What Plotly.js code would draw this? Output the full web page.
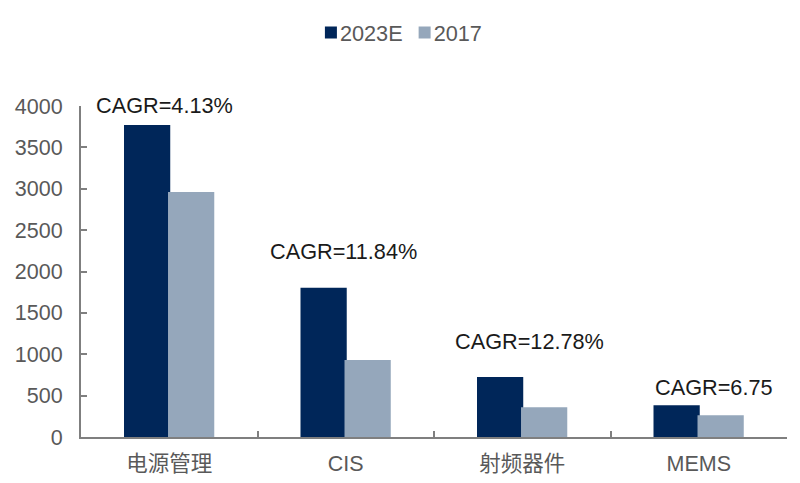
<!DOCTYPE html>
<html><head><meta charset="utf-8">
<script src="https://cdn.plot.ly/plotly-3.0.1.min.js"></script>
<style>html,body{margin:0;padding:0;background:#fff}</style></head>
<body><div id="chart" style="width:800px;height:483px"></div>
<script>
const categories = ['电源管理','CIS','射频器件','MEMS'];
const values2023E = [3770,1805,725,385];
const values2017 = [2960,930,360,262];
const cagrLabels = ['CAGR=4.13%','CAGR=11.84%','CAGR=12.78%','CAGR=6.75'];
const cagrLabelHeights = [4000,2236,1160,604];
const cagrLabelX = [-0.027,0.987,2.041,3.084];
const gray='#7f7f7f';
const font='"Liberation Sans",Arial,sans-serif';
const bw=0.262;
const data=[
 {type:'bar',name:'2023E',x:categories,y:values2023E,width:bw,offset:-0.2564,marker:{color:'#002659'}},
 {type:'bar',name:'2017',x:categories,y:values2017,width:bw,offset:-0.007,marker:{color:'#95a7bb'}}
];
const layout={
 width:800,height:483,margin:{l:81,r:13,t:106,b:46},
 paper_bgcolor:'#fff',plot_bgcolor:'#fff',barmode:'overlay',showlegend:true,
 font:{family:font,size:21.7,color:'#595959'},
 legend:{orientation:'h',x:0.468,xanchor:'center',xref:'paper',y:1.221,yanchor:'middle',
   font:{family:font,size:21.7,color:'#595959'},itemwidth:30,tracegroupgap:0,bgcolor:'rgba(0,0,0,0)'},
 xaxis:{type:'category',range:[-0.5,3.5],tickson:'boundaries',ticks:'inside',ticklen:6,tickwidth:2,tickcolor:gray,
   showline:true,linecolor:gray,linewidth:2,showgrid:false,zeroline:false,
   tickfont:{family:font+',"Noto Sans CJK SC"',size:21.5,color:'#595959'},ticklabelstandoff:6},
 yaxis:{range:[0,4000],tickvals:[0,500,1000,1500,2000,2500,3000,3500,4000],ticks:'inside',ticklen:6,tickwidth:2,tickcolor:gray,
   showline:true,linecolor:gray,linewidth:2,showgrid:false,zeroline:false,
   tickfont:{family:font,size:21.5,color:'#595959'},ticklabelstandoff:12},
 annotations:cagrLabels.map((t,i)=>({text:t,x:cagrLabelX[i],y:cagrLabelHeights[i],xref:'x',yref:'y',showarrow:false,
   yshift:i===0?1:0,
   font:{family:font,size:21.7,color:'#1a1a1a'},xanchor:'center',yanchor:'middle'}))
};
Plotly.newPlot('chart',data,layout,{displayModeBar:false,staticPlot:true}).then(()=>{
  // tighten the gap between legend swatch and label
  document.querySelectorAll('.legend .legendtext').forEach(t=>{
    t.setAttribute('x', parseFloat(t.getAttribute('x'))-11);
  });
  document.querySelectorAll('.legend .traces').forEach((g,i)=>{
    const m=/translate\(([-\d.]+),\s*([-\d.]+)\)/.exec(g.getAttribute('transform'));
    if(m) g.setAttribute('transform','translate('+(parseFloat(m[1])-i*14)+','+m[2]+')');
  });
});
</script></body></html>
